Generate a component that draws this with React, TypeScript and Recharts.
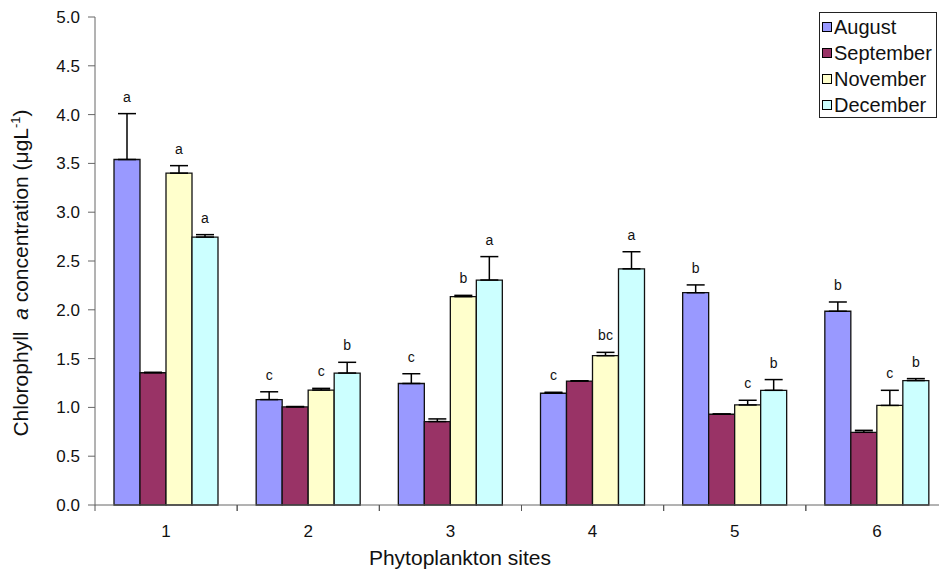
import React from 'react';
import { BarChart, Bar, XAxis, YAxis, ErrorBar, LabelList, Legend } from 'recharts';

const sites = ['1', '2', '3', '4', '5', '6'];

const august = [3.54, 1.08, 1.245, 1.145, 2.175, 1.985];
const augustErr = [0.47, 0.08, 0.1, 0.01, 0.08, 0.095];
const augustLetters = ['a', 'c', 'c', 'c', 'b', 'b'];

const september = [1.355, 1.005, 0.855, 1.27, 0.93, 0.745];
const septemberErr = [0.005, 0.004, 0.027, 0.003, 0.003, 0.02];
const septemberLetters = ['', '', '', '', '', ''];

const november = [3.4, 1.178, 2.135, 1.53, 1.025, 1.02];
const novemberErr = [0.077, 0.017, 0.013, 0.034, 0.048, 0.155];
const novemberLetters = ['a', 'c', 'b', 'bc', 'c', 'c'];

const december = [2.745, 1.352, 2.305, 2.42, 1.175, 1.275];
const decemberErr = [0.025, 0.11, 0.24, 0.175, 0.11, 0.02];
const decemberLetters = ['a', 'b', 'a', 'a', 'b', 'b'];

const yTicks = [0, 0.5, 1, 1.5, 2, 2.5, 3, 3.5, 4, 4.5, 5];

const series = [
  { key: 'aug', name: 'August', color: '#9999FF', values: august, errs: augustErr, letters: augustLetters },
  { key: 'sep', name: 'September', color: '#993366', values: september, errs: septemberErr, letters: septemberLetters },
  { key: 'nov', name: 'November', color: '#FFFFCC', values: november, errs: novemberErr, letters: novemberLetters },
  { key: 'dec', name: 'December', color: '#CCFFFF', values: december, errs: decemberErr, letters: decemberLetters },
];

const data = sites.map((s, i) => {
  const row: any = { site: s };
  series.forEach((se) => {
    row[se.key] = se.values[i];
    row[se.key + 'Err'] = [0, se.errs[i]];
    row[se.key + 'L'] = se.letters[i];
  });
  return row;
});

const FONT = '"Liberation Sans", Arial, sans-serif';
const CHART_W = 960;
const CHART_H = 571;
const MARGIN = { top: 17, right: 12, bottom: 0, left: 0 };
const Y_AXIS_W = 95;
const X_AXIS_H = 66;
const BAND = (CHART_W - MARGIN.left - MARGIN.right - Y_AXIS_W) / sites.length;

const renderLetter = (props: any) => {
  const vb = props.viewBox ?? props;
  const { x, y, width, height } = vb;
  const raw = String(props.value ?? '');
  const [letter, errS, valS] = raw.split('|');
  if (!letter) return null;
  const val = parseFloat(valS);
  const err = parseFloat(errS);
  const ppu = Math.abs(height) / val;
  const top = Math.min(y, y + height) - err * ppu;
  return (
    <text x={x + width / 2} y={top - 12} textAnchor="middle" fontSize={14} fontFamily={FONT} fill="#111">
      {letter}
    </text>
  );
};

const XTick = (props: any) => {
  const { x, y, payload } = props;
  return (
    <g>
      <line x1={x - BAND / 2} x2={x - BAND / 2} y1={y} y2={y + 6} stroke="#555" strokeWidth={1} />
      <line x1={x + BAND / 2} x2={x + BAND / 2} y1={y} y2={y + 6} stroke="#555" strokeWidth={1} />
      <text x={x} y={y + 32} textAnchor="middle" fontSize={17} fontFamily={FONT} fill="#111">
        {payload.value}
      </text>
    </g>
  );
};

const YTitle = () => (
  <text
    x={28}
    y={273}
    transform="rotate(-90, 28, 273)"
    textAnchor="middle"
    fontSize={21}
    fontFamily={FONT}
    fill="#111"
    xmlSpace="preserve"
    style={{ whiteSpace: 'pre' }}
  >
    {'Chlorophyll  '}
    <tspan fontStyle="italic">a</tspan>
    {' concentration (μgL'}
    <tspan dy={-8} fontSize={13}>-1</tspan>
    <tspan dy={8}>)</tspan>
  </text>
);

const XTitle = () => (
  <text x={460} y={565} textAnchor="middle" fontSize={21} fontFamily={FONT} fill="#111">
    Phytoplankton sites
  </text>
);

const LegendBox = () => (
  <div
    style={{
      border: '1px solid #222',
      background: '#fff',
      width: 118,
      height: 106,
      boxSizing: 'border-box',
      paddingTop: 1,
    }}
  >
    {series.map((s) => (
      <div
        key={s.key}
        style={{
          display: 'flex',
          alignItems: 'center',
          height: 26,
          fontSize: 20,
          fontFamily: FONT,
          color: '#111',
          whiteSpace: 'nowrap',
        }}
      >
        <span
          style={{
            display: 'inline-block',
            width: 8,
            height: 8,
            border: '1px solid #000',
            background: s.color,
            marginLeft: 2,
            marginRight: 2,
          }}
        />
        {s.name}
      </div>
    ))}
  </div>
);

export default function App() {
  return (
    <div
      style={{
        position: 'absolute',
        left: 0,
        top: 0,
        width: 939,
        height: 571,
        overflow: 'hidden',
        background: '#fff',
      }}
    >
      <BarChart
        width={CHART_W}
        height={CHART_H}
        data={data}
        margin={MARGIN}
        barCategoryGap={19}
        barGap={0}
      >
        <XAxis
          dataKey="site"
          height={X_AXIS_H}
          tickLine={false}
          tickSize={0}
          tickMargin={0}
          interval={0}
          stroke="#666"
          tick={<XTick />}
          label={<XTitle />}
        />
        <YAxis
          type="number"
          domain={[0, 5]}
          ticks={yTicks}
          interval={0}
          width={Y_AXIS_W}
          tickSize={7}
          tickMargin={8}
          stroke="#666"
          tick={{ fill: '#111', fontSize: 17, fontFamily: FONT }}
          tickFormatter={(v: number) => v.toFixed(1)}
          label={<YTitle />}
        />
        <Legend
          layout="vertical"
          align="center"
          verticalAlign="middle"
          content={<LegendBox />}
          wrapperStyle={{ position: 'absolute', left: 819, top: 12, width: 118, height: 106 }}
        />
        {series.map((s) => (
          <Bar
            key={s.key}
            dataKey={s.key}
            name={s.name}
            fill={s.color}
            stroke="#111"
            strokeWidth={1.3}
            isAnimationActive={false}
          >
            <ErrorBar
              dataKey={s.key + 'Err'}
              width={9}
              stroke="#000"
              strokeWidth={1.5}
              direction="y"
              isAnimationActive={false}
            />
            <LabelList
              dataKey={(row: any) => `${row[s.key + 'L']}|${row[s.key + 'Err'][1]}|${row[s.key]}`}
              content={renderLetter}
            />
          </Bar>
        ))}
      </BarChart>
    </div>
  );
}
